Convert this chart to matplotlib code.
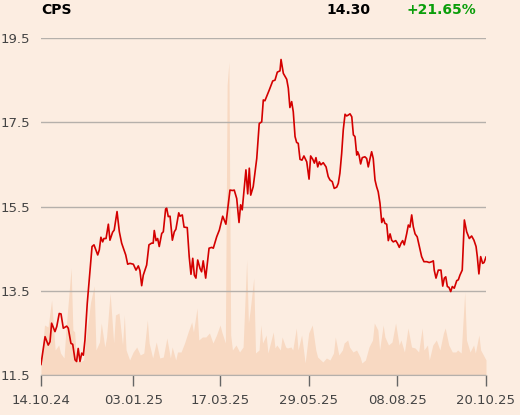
import matplotlib
matplotlib.use("Agg")
import matplotlib.pyplot as plt
import numpy as np

# CPS daily close, x = trading session number since 14.10.24
session = [0, 2.3, 4.1, 5.1, 6.0, 7.9, 8.9, 10.3, 11.3, 12.6, 14.5, 15.4, 16.9, 17.9, 19.2, 20.1, 21.0, 22.0, 23.0, 23.9,
           24.8, 26.1, 27.2, 28.8, 29.9, 32.0, 32.9, 33.8, 34.8, 35.5, 36.7, 38.0, 38.9, 40.4, 41.3, 42.9, 44.2, 45.5, 47.8, 48.9,
           50.2, 52.1, 53.6, 54.9, 55.8, 56.8, 57.7, 59.6, 60.9, 62.4, 63.3, 63.9, 64.9, 65.8, 66.7, 68.1, 69.0, 70.3, 70.9, 71.8,
           72.8, 74.1, 75.2, 76.1, 77.7, 78.4, 79.7, 80.7, 82.5, 83.6, 84.6, 85.6, 86.5, 87.4, 88.4, 89.7, 90.6, 91.5, 92.9, 94.8,
           96.3, 97.2, 99.1, 100.6, 102.5, 104.3, 105.9, 106.6, 108.1, 109.0, 110.4, 111.7, 112.6, 113.5, 115.6, 116.6, 117.5, 118.3, 119.7, 121.7,
           123.1, 124.5, 125.4, 126.3, 128.8, 130.7, 132.0, 133.3, 134.8, 135.4, 136.7, 138.6, 139.5, 140.4, 141.4, 142.3, 143.3, 144.2, 145.1, 146.1,
           147.2, 148.3, 149.9, 151.2, 152.1, 153.3, 154.2, 155.1, 156.1, 157.0, 157.9, 159.2, 160.8, 162.0, 163.0, 164.3, 165.4, 166.8, 167.7, 168.6,
           169.6, 170.5, 171.5, 172.4, 173.3, 174.3, 175.3, 176.2, 177.1, 178.1, 178.6, 179.4, 180.3, 181.2, 182.7, 183.7, 184.6, 185.6, 186.5, 187.4,
           188.4, 189.3, 190.2, 191.2, 192.2, 193.1, 194.0, 195.0, 195.9, 196.9, 197.8, 198.7, 200.1, 201.0, 202.1, 203.1, 204.0, 204.9, 206.3, 207.2,
           208.1, 209.1, 210.0, 211.0, 212.2, 213.4, 214.7, 216.0, 217.6, 219.0, 220.4, 221.3, 221.8, 222.8, 224.1, 225.6, 226.6, 227.5, 228.3, 229.2,
           230.1, 231.1, 232.0, 233.1, 234.5, 235.4, 236.3, 237.6, 238.8, 240.1, 241.6, 242.9, 244.2, 245.4, 246.1, 247.0, 248.0, 249.1, 249.9, 251]
price = [11.75, 12.41, 12.21, 12.29, 12.73, 12.53, 12.65, 12.96, 12.95, 12.61, 12.66, 12.61, 12.25, 12.23, 11.86, 11.82, 12.13, 11.82, 12.02, 11.97,
         12.33, 13.20, 13.76, 14.55, 14.59, 14.35, 14.47, 14.77, 14.66, 14.74, 14.74, 15.08, 14.70, 14.89, 14.94, 15.38, 14.90, 14.63, 14.35, 14.13,
         14.15, 14.13, 13.99, 14.09, 13.98, 13.62, 13.87, 14.11, 14.59, 14.63, 14.63, 14.93, 14.69, 14.74, 14.55, 14.86, 14.90, 15.44, 15.46, 15.26,
         15.27, 14.70, 14.90, 14.96, 15.35, 15.27, 15.30, 15.01, 15.00, 14.31, 13.89, 14.27, 13.87, 13.80, 14.23, 14.03, 13.95, 14.21, 13.80, 14.51,
         14.53, 14.51, 14.78, 14.94, 15.27, 15.08, 15.65, 15.89, 15.88, 15.89, 15.69, 15.12, 15.54, 15.42, 16.37, 15.80, 16.41, 15.77, 15.97, 16.64,
         17.47, 17.51, 18.03, 18.01, 18.27, 18.48, 18.50, 18.69, 18.72, 18.99, 18.66, 18.52, 18.31, 17.85, 17.99, 17.75, 17.16, 17.02, 17.00, 16.62,
         16.60, 16.70, 16.56, 16.15, 16.70, 16.62, 16.53, 16.66, 16.44, 16.56, 16.49, 16.54, 16.44, 16.21, 16.13, 16.09, 15.93, 15.96, 16.05, 16.29,
         16.76, 17.32, 17.69, 17.65, 17.67, 17.70, 17.63, 17.20, 17.16, 16.72, 16.80, 16.72, 16.51, 16.66, 16.68, 16.64, 16.44, 16.64, 16.80, 16.64,
         16.13, 15.97, 15.85, 15.58, 15.12, 15.22, 15.10, 15.08, 14.69, 14.85, 14.70, 14.66, 14.69, 14.63, 14.53, 14.63, 14.69, 14.59, 14.86, 15.06,
         15.01, 15.30, 15.02, 14.85, 14.78, 14.55, 14.31, 14.19, 14.19, 14.17, 14.19, 14.21, 13.99, 13.80, 13.99, 13.99, 13.61, 13.80, 13.83, 13.60,
         13.58, 13.48, 13.60, 13.56, 13.74, 13.76, 13.87, 13.99, 15.18, 14.90, 14.74, 14.80, 14.70, 14.55, 14.31, 13.90, 14.31, 14.15, 14.17, 14.30]

# turnover (relative units), sampled by session
vol_session = [0, 2, 4, 6, 8, 10, 11, 13, 14, 17, 18, 19, 20, 22, 24, 26, 28, 30, 31, 33, 34, 36, 37, 39, 41, 42, 44, 46, 47, 48,
               50, 52, 54, 56, 58, 60, 61, 63, 65, 67, 69, 71, 73, 74, 76, 77, 79, 81, 83, 85, 86, 88, 89, 91, 93, 95, 97, 99, 101, 102,
               104, 105, 106, 107, 108, 110, 112, 114, 116, 117, 118, 120, 121, 123, 124, 125, 127, 128, 131, 132, 133, 135, 136, 138, 139, 141, 142, 144, 145, 147,
               149, 151, 153, 155, 156, 159, 161, 163, 165, 166, 168, 170, 171, 173, 174, 176, 178, 180, 181, 183, 185, 187, 188, 190, 191, 193, 194, 196, 198, 200,
               202, 203, 205, 207, 209, 211, 213, 215, 216, 218, 219, 221, 223, 225, 227, 228, 230, 232, 234, 235, 237, 239, 240, 242, 244, 245, 247, 248, 251]
volume = [12, 50, 48, 75, 25, 30, 22, 17, 43, 107, 45, 43, 15, 13, 15, 45, 73, 89, 25, 33, 52, 28, 38, 82, 32, 60, 62, 30, 60, 25,
          15, 23, 28, 20, 22, 55, 32, 17, 33, 17, 18, 37, 17, 28, 15, 23, 23, 32, 43, 53, 43, 67, 35, 38, 38, 42, 32, 40, 50, 43,
          32, 290, 313, 40, 25, 30, 23, 28, 115, 52, 65, 97, 22, 25, 50, 32, 40, 22, 43, 27, 30, 25, 38, 28, 27, 28, 25, 47, 25, 40,
          12, 42, 50, 25, 18, 13, 17, 15, 22, 38, 20, 25, 32, 35, 28, 23, 25, 18, 12, 15, 28, 35, 52, 45, 25, 50, 38, 30, 33, 52,
          30, 35, 23, 47, 28, 27, 23, 47, 25, 30, 15, 30, 35, 25, 42, 47, 30, 23, 23, 25, 22, 83, 35, 23, 30, 22, 40, 25, 15]

tick_sessions = [0, 52, 101, 151, 201, 251]
tick_labels = ["14.10.24", "03.01.25", "17.03.25", "29.05.25", "08.08.25", "20.10.25"]
price_ticks = [11.5, 13.5, 15.5, 17.5, 19.5]

ticker = "CPS"
last_price = "14.30"
change = "+21.65%"

bg = "#fcede1"
fig = plt.figure(figsize=(5.2, 4.15), dpi=100, facecolor=bg)
ax = fig.add_axes([0.0788, 0.0964, 0.8558, 0.812])
ax_vol = ax.twinx()

# volume band behind the price line
ax_vol.fill_between(vol_session, 0, volume, color="#f8d9c2", lw=0)
ax_vol.set_ylim(0, 337)
ax_vol.set_yticks([])
for s in ax_vol.spines.values():
    s.set_visible(False)

ax.set_zorder(ax_vol.get_zorder() + 1)
ax.patch.set_visible(False)
ax_vol.set_facecolor(bg)
ax_vol.patch.set_visible(True)

for p in price_ticks:
    ax.axhline(p, color="#b5b0ab", lw=1, zorder=1)
ax.plot(session, price, color="#d40000", lw=1.2, zorder=3)

ax.set_xlim(0, 251)
ax.set_ylim(11.5, 19.5)
ax.set_yticks(price_ticks)
ax.set_yticklabels([f"{p:.1f}" for p in price_ticks])
ax.set_xticks(tick_sessions)
ax.set_xticklabels(tick_labels)
ax.tick_params(axis="y", length=0, pad=8, labelsize=9.5, labelcolor="#444444")
ax.tick_params(axis="x", length=8, width=1, color="#666666", pad=6, labelsize=9.5, labelcolor="#444444")
for s in ["top", "right", "left"]:
    ax.spines[s].set_visible(False)
ax.spines["bottom"].set_color("#b5b0ab")

fig.text(41 / 520, 1 - 10 / 415, ticker, fontsize=10, fontweight="bold", va="center", ha="left")
fig.text(370 / 520, 1 - 10 / 415, last_price, fontsize=10, fontweight="bold", va="center", ha="right")
fig.text(476 / 520, 1 - 10 / 415, change, fontsize=10, fontweight="bold", va="center", ha="right", color="#0a9e0a")

fig.savefig("out.png", dpi=100, facecolor=bg)
